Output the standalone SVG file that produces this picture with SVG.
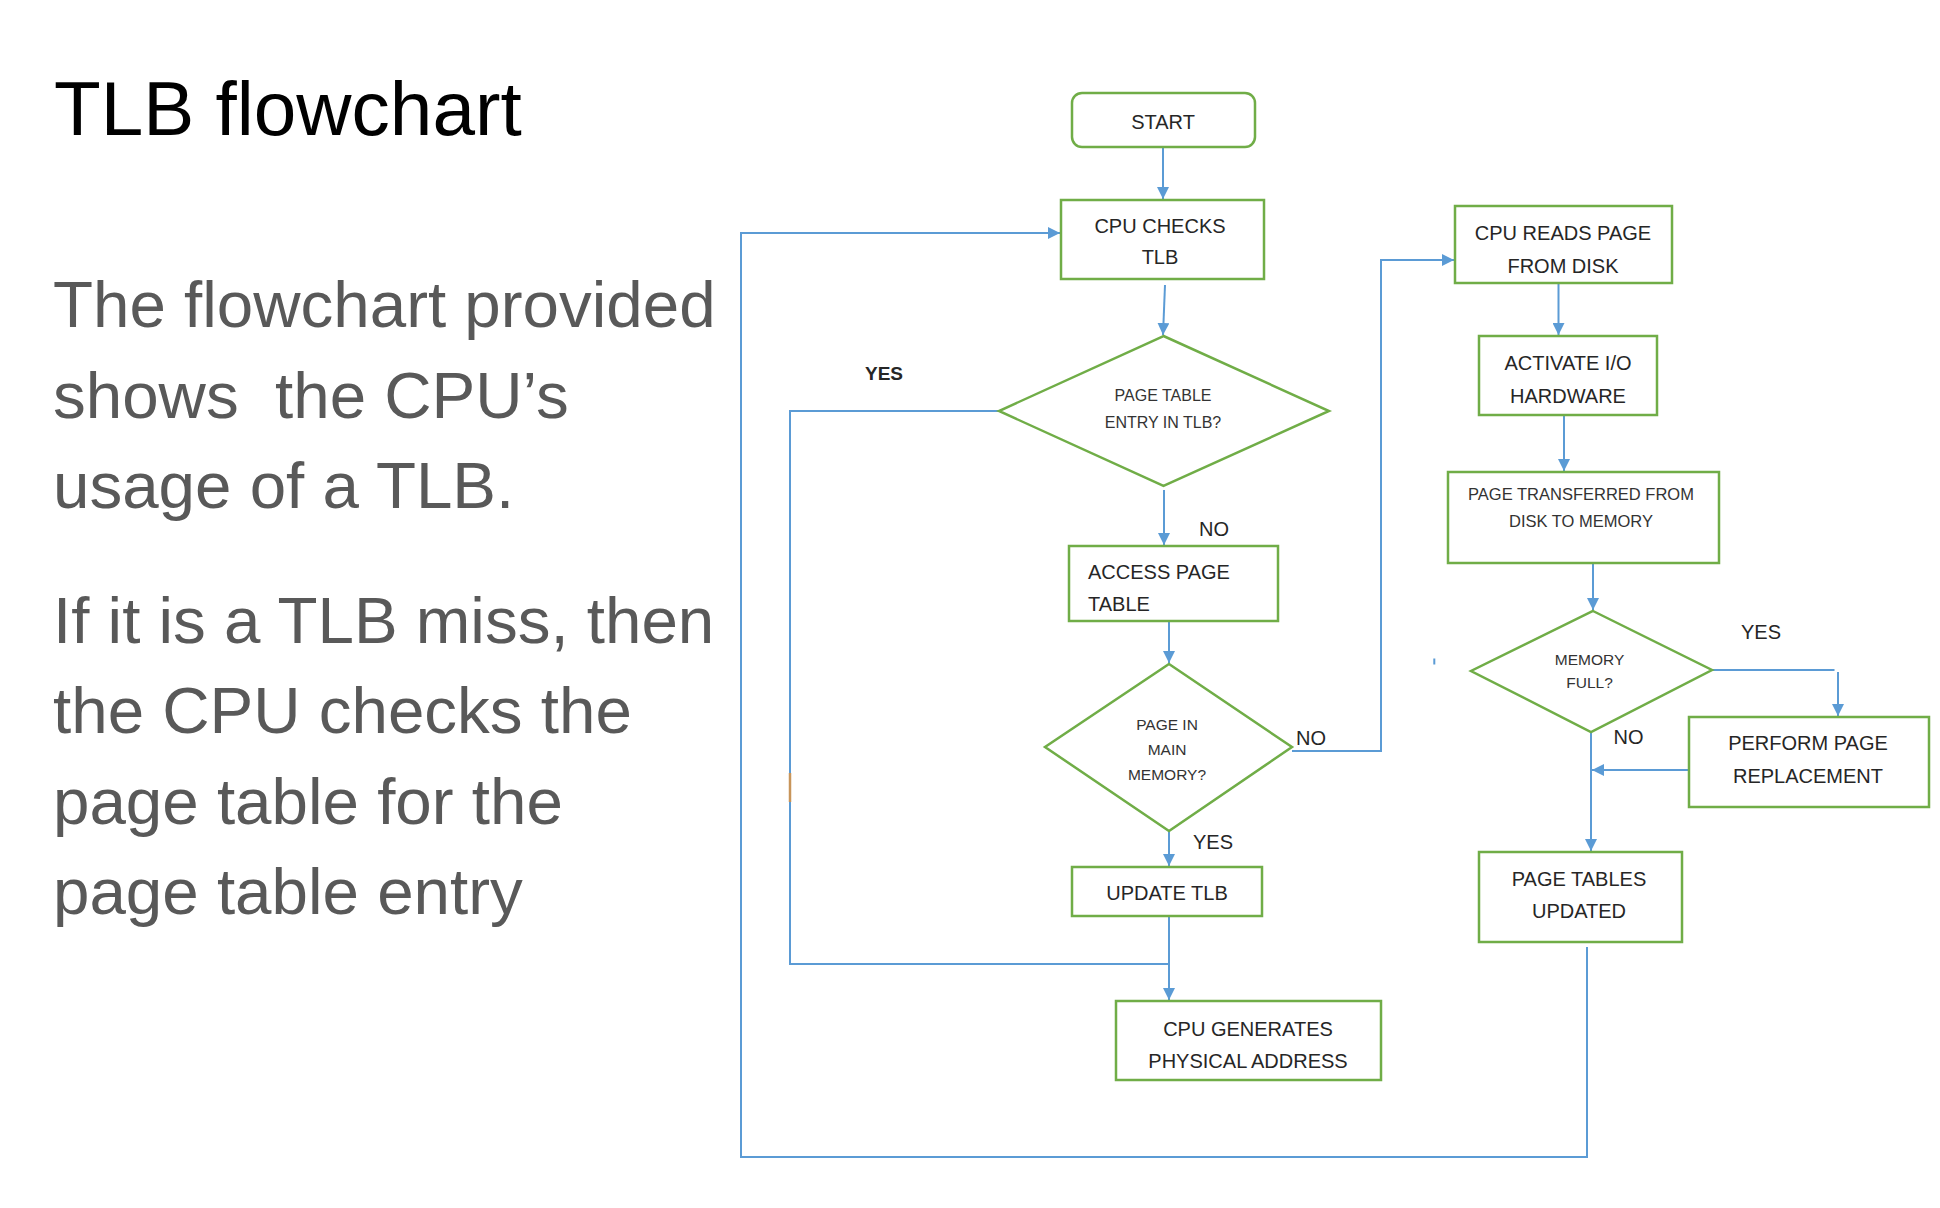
<svg xmlns="http://www.w3.org/2000/svg" width="1940" height="1208" viewBox="0 0 1940 1208">
<style>
.title{font-family:"Liberation Sans",Arial,sans-serif;font-size:76.5px;fill:#000}
.body{font-family:"Liberation Sans",Arial,sans-serif;font-size:65.5px;fill:#595959;white-space:pre}
.box{fill:#fff;stroke:#70AD47;stroke-width:2.5}
.t{font-family:"Liberation Sans",Arial,sans-serif;font-size:20px;fill:#262626;text-anchor:middle}
.ts{font-family:"Liberation Sans",Arial,sans-serif;font-size:16px;fill:#333;text-anchor:middle}
.lbl{font-family:"Liberation Sans",Arial,sans-serif;font-size:20px;fill:#262626}
.conn{fill:none;stroke:#5B9BD5;stroke-width:2}
</style>
<defs>
<marker id="ah" viewBox="0 0 10 10" refX="10" refY="5" markerWidth="6" markerHeight="6" markerUnits="strokeWidth" orient="auto">
<path d="M0,0 L10,5 L0,10 z" fill="#5B9BD5"/>
</marker>
</defs>
<rect width="1940" height="1208" fill="#fff"/>

<g id="slide-text">
<text class="title" x="54" y="135">TLB flowchart</text>
<text class="body" x="53" y="327">The flowchart provided</text>
<text class="body" x="53" y="418">shows  the CPU’s</text>
<text class="body" x="53" y="508">usage of a TLB.</text>
<text class="body" x="53" y="643">If it is a TLB miss, then</text>
<text class="body" x="53" y="733">the CPU checks the</text>
<text class="body" x="53" y="824">page table for the</text>
<text class="body" x="53" y="914">page table entry</text>
</g>

<g id="connectors">
<path class="conn" d="M1163,147 V199" marker-end="url(#ah)"/>
<path class="conn" d="M1165,285 L1163,335" marker-end="url(#ah)"/>
<path class="conn" d="M1164,490 V545" marker-end="url(#ah)"/>
<path class="conn" d="M1169,621 V663" marker-end="url(#ah)"/>
<path class="conn" d="M1169,831 V866" marker-end="url(#ah)"/>
<path class="conn" d="M1169,916 V1000" marker-end="url(#ah)"/>
<path class="conn" d="M999,411 H790 V964 H1169"/>
<path class="conn" d="M1292,751 H1381 V260 H1454" marker-end="url(#ah)"/>
<path class="conn" d="M1558.5,283 V335" marker-end="url(#ah)"/>
<path class="conn" d="M1564,415 V471" marker-end="url(#ah)"/>
<path class="conn" d="M1593,563 V610" marker-end="url(#ah)"/>
<path class="conn" d="M1712,670 H1834.5"/>
<path class="conn" d="M1838,672 V716" marker-end="url(#ah)"/>
<path class="conn" d="M1591,732 V851" marker-end="url(#ah)"/>
<path class="conn" d="M1689,770 H1592" marker-end="url(#ah)"/>
<path class="conn" d="M1587,947 V1157 H741 V233 H1060" marker-end="url(#ah)"/>
<path d="M790,773 V802" stroke="#C8955A" stroke-width="2.5" fill="none"/>
<rect x="1433.3" y="658.5" width="2" height="6" fill="#5B9BD5"/>
</g>

<g id="start">
<rect class="box" x="1072" y="93" width="183" height="54" rx="10"/>
<text class="t" x="1163" y="129">START</text>
</g>
<g id="cpu-checks-tlb">
<rect class="box" x="1061" y="200" width="203" height="79"/>
<text class="t" x="1160" y="233">CPU CHECKS</text>
<text class="t" x="1160" y="264">TLB</text>
</g>
<g id="pte-in-tlb">
<polygon class="box" points="1163.5,336 1329,411 1163.5,486 999,411"/>
<text class="ts" x="1163" y="401">PAGE TABLE</text>
<text class="ts" x="1163" y="428">ENTRY IN TLB?</text>
</g>
<g id="access-page-table">
<rect class="box" x="1069" y="546" width="209" height="75"/>
<text class="lbl" x="1088" y="578.5">ACCESS PAGE</text>
<text class="lbl" x="1088" y="611">TABLE</text>
</g>
<g id="page-in-main-memory">
<polygon class="box" points="1169,664 1292,747 1169,831 1045,747"/>
<text class="ts" x="1167" y="730" style="font-size:15.5px">PAGE IN</text>
<text class="ts" x="1167" y="755" style="font-size:15.5px">MAIN</text>
<text class="ts" x="1167" y="780" style="font-size:15.5px">MEMORY?</text>
</g>
<g id="update-tlb">
<rect class="box" x="1072" y="867" width="190" height="49"/>
<text class="t" x="1167" y="900">UPDATE TLB</text>
</g>
<g id="cpu-generates">
<rect class="box" x="1116" y="1001" width="265" height="79"/>
<text class="t" x="1248" y="1036">CPU GENERATES</text>
<text class="t" x="1248" y="1068">PHYSICAL ADDRESS</text>
</g>
<g id="cpu-reads-page">
<rect class="box" x="1455" y="206" width="217" height="77"/>
<text class="t" x="1563" y="240">CPU READS PAGE</text>
<text class="t" x="1563" y="273">FROM DISK</text>
</g>
<g id="activate-io">
<rect class="box" x="1479" y="336" width="178" height="79"/>
<text class="t" x="1568" y="370">ACTIVATE I/O</text>
<text class="t" x="1568" y="403">HARDWARE</text>
</g>
<g id="page-transferred">
<rect class="box" x="1448" y="472" width="271" height="91"/>
<text class="ts" x="1581" y="500" style="font-size:16.5px">PAGE TRANSFERRED FROM</text>
<text class="ts" x="1581" y="527" style="font-size:16.5px">DISK TO MEMORY</text>
</g>
<g id="memory-full">
<polygon class="box" points="1593,611 1712,670 1591,732 1471,671"/>
<text class="ts" x="1589.5" y="665" style="font-size:15.5px">MEMORY</text>
<text class="ts" x="1589.5" y="688" style="font-size:15.5px">FULL?</text>
</g>
<g id="perform-page-replacement">
<rect class="box" x="1689" y="717" width="240" height="90"/>
<text class="t" x="1808" y="750">PERFORM PAGE</text>
<text class="t" x="1808" y="783">REPLACEMENT</text>
</g>
<g id="page-tables-updated">
<rect class="box" x="1479" y="852" width="203" height="90"/>
<text class="t" x="1579" y="886">PAGE TABLES</text>
<text class="t" x="1579" y="918">UPDATED</text>
</g>

<g id="labels">
<text class="lbl" x="865" y="380" style="font-weight:bold;font-size:19px">YES</text>
<text class="lbl" x="1199" y="536">NO</text>
<text class="lbl" x="1296" y="745">NO</text>
<text class="lbl" x="1193" y="849">YES</text>
<text class="lbl" x="1741" y="639">YES</text>
<text class="lbl" x="1613.5" y="744">NO</text>
</g>
</svg>
